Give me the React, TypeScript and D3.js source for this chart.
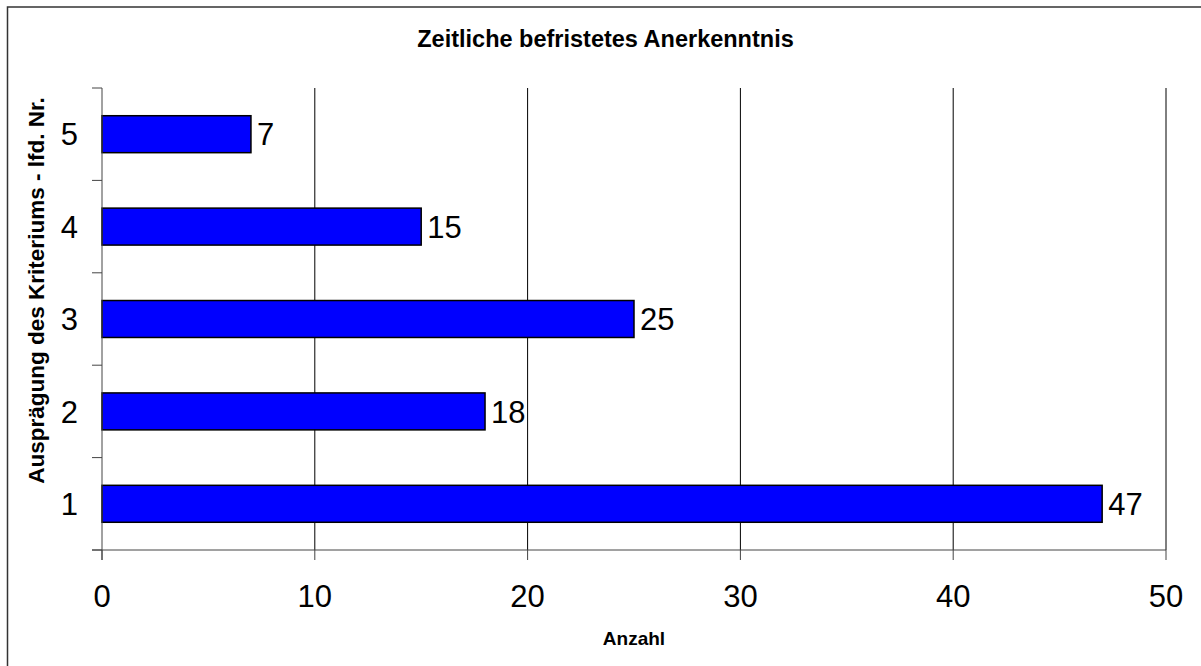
import React from "react";
import * as d3 from "d3";

const categories = ["5", "4", "3", "2", "1"];
const values = [7, 15, 25, 18, 47];
const xTicks = [0, 10, 20, 30, 40, 50];
const title = "Zeitliche befristetes Anerkenntnis";
const xTitle = "Anzahl";
const yTitle = "Ausprägung des Kriteriums - lfd. Nr.";

export default function App() {
  const W = 1201, H = 666;
  const left = 102, right = 1166, top = 88, bottom = 550;
  const x = d3.scaleLinear().domain([0, 50]).range([left, right]);
  const y = d3.scaleBand<string>().domain(categories).range([top, bottom]).paddingInner(0.6).paddingOuter(0.3);
  const font = "'Liberation Sans', Arial, sans-serif";
  const numSize = 31;
  const boundaries = d3.range(categories.length + 1).map((i) => top + i * (bottom - top) / categories.length);
  return (
    <svg width={W} height={H} style={{ position: "absolute", left: 0, top: 0, background: "#fff" }} fontFamily={font}>
      <rect x={0} y={0} width={W} height={H} fill="#fff" />
      <rect x={7.5} y={7} width={1400} height={1000} fill="none" stroke="#333" strokeWidth={1.5} />
      <text x={605.5} y={47} textAnchor="middle" fontWeight="bold" fontSize={23.5}>{title}</text>
      {xTicks.filter((t) => t > 0).map((t) => (
        <line key={"g" + t} x1={x(t)} x2={x(t)} y1={top} y2={bottom} stroke="#000" strokeWidth={1} />
      ))}
      {values.map((v, i) => (
        <rect key={"b" + i} x={x(0)} y={y(categories[i])} width={x(v) - x(0)} height={y.bandwidth()}
          fill="#0000ff" stroke="#000" strokeWidth={1.5} />
      ))}
      <line x1={left} x2={left} y1={top} y2={bottom + 10} stroke="#444" strokeWidth={1} />
      <line x1={left - 10} x2={right} y1={bottom} y2={bottom} stroke="#444" strokeWidth={1} />
      {boundaries.map((b, i) => (
        <line key={"yt" + i} x1={left - 10} x2={left} y1={b} y2={b} stroke="#444" strokeWidth={1} />
      ))}
      {xTicks.map((t) => (
        <line key={"xt" + t} x1={x(t)} x2={x(t)} y1={bottom} y2={bottom + 10} stroke="#444" strokeWidth={1} />
      ))}
      {xTicks.map((t) => (
        <text key={"xl" + t} x={x(t)} y={607} textAnchor="middle" fontSize={numSize}>{t}</text>
      ))}
      {categories.map((c) => (
        <text key={"yl" + c} x={78} y={(y(c) as number) + y.bandwidth() / 2 + numSize * 0.36} textAnchor="end" fontSize={numSize}>{c}</text>
      ))}
      {values.map((v, i) => (
        <text key={"vl" + i} x={x(v) + 6} y={(y(categories[i]) as number) + y.bandwidth() / 2 + numSize * 0.36} fontSize={numSize}>{v}</text>
      ))}
      <text x={(left + right) / 2} y={645} textAnchor="middle" fontWeight="bold" fontSize={19}>{xTitle}</text>
      <text transform={`translate(44,290.5) rotate(-90)`} textAnchor="middle" fontWeight="bold" fontSize={22.5}>{yTitle}</text>
    </svg>
  );
}
